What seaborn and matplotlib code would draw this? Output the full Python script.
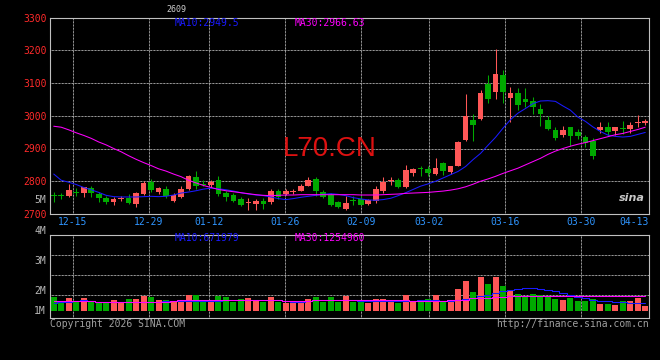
import numpy as np
import pandas as pd
import matplotlib
matplotlib.use("Agg")
import matplotlib.pyplot as plt
import seaborn as sns

# daily K-line of L70.CN, 2025-12-10 .. 2026-04-13 (80 sessions)
open_ = [2758, 2757, 2756, 2766, 2764, 2779, 2761, 2749, 2738, 2747,
         2749, 2732, 2760, 2797, 2768, 2777, 2739, 2752, 2775, 2813,
         2793, 2790, 2805, 2765, 2757, 2747, 2733, 2732, 2740, 2736,
         2771, 2760, 2767, 2770, 2785, 2808, 2768, 2757, 2736, 2714,
         2742, 2747, 2731, 2740, 2770, 2800, 2805, 2782, 2824, 2840,
         2836, 2823, 2856, 2829, 2848, 2925, 2988, 2991, 3098, 3074,
         3125, 3054, 3069, 3052, 3044, 3021, 2988, 2958, 2942, 2965,
         2949, 2934, 2922, 2957, 2965, 2952, 2963, 2961, 2977, 2978]
high = [2766, 2765, 2792, 2778, 2783, 2786, 2766, 2754, 2751, 2754,
        2761, 2768, 2800, 2806, 2782, 2785, 2765, 2785, 2820, 2830,
        2803, 2805, 2815, 2770, 2765, 2752, 2750, 2747, 2749, 2775,
        2777, 2775, 2777, 2793, 2812, 2813, 2772, 2764, 2740, 2754,
        2754, 2757, 2746, 2785, 2812, 2814, 2810, 2849, 2841, 2848,
        2847, 2871, 2858, 2848, 2924, 3067, 3006, 3079, 3125, 3203,
        3140, 3089, 3084, 3084, 3057, 3037, 2998, 2966, 2970, 2966,
        2960, 2942, 2932, 2981, 2980, 2965, 2985, 2981, 3003, 2991]
low = [2737, 2745, 2752, 2756, 2751, 2753, 2736, 2731, 2728, 2739,
       2731, 2721, 2758, 2767, 2762, 2750, 2736, 2748, 2772, 2775,
       2785, 2782, 2756, 2739, 2737, 2724, 2712, 2712, 2716, 2731,
       2746, 2757, 2760, 2770, 2784, 2755, 2750, 2724, 2717, 2712,
       2727, 2726, 2727, 2735, 2765, 2790, 2778, 2780, 2815, 2817,
       2815, 2819, 2818, 2822, 2846, 2922, 2922, 2988, 3039, 3052,
       3039, 2980, 3018, 3028, 3006, 2970, 2955, 2925, 2934, 2909,
       2930, 2905, 2869, 2947, 2937, 2942, 2944, 2947, 2965, 2971]
close = [2756, 2754, 2773, 2763, 2781, 2763, 2750, 2738, 2746, 2750,
         2734, 2764, 2795, 2773, 2780, 2755, 2757, 2777, 2815, 2785,
         2790, 2797, 2760, 2751, 2741, 2726, 2735, 2739, 2732, 2771,
         2752, 2771, 2769, 2785, 2805, 2770, 2753, 2727, 2722, 2735,
         2739, 2729, 2743, 2777, 2797, 2803, 2781, 2834, 2836, 2837,
         2826, 2841, 2831, 2846, 2920, 2998, 2973, 3069, 3052, 3128,
         3071, 3069, 3034, 3041, 3028, 3006, 2960, 2932, 2955, 2937,
         2937, 2917, 2876, 2967, 2949, 2965, 2961, 2973, 2978, 2985]
ma10 = [2822, 2803, 2797, 2790, 2781, 2774, 2766, 2757, 2753, 2752,
        2752, 2752, 2753, 2754, 2753, 2754, 2758, 2764, 2767, 2771,
        2776, 2779, 2777, 2774, 2770, 2765, 2761, 2758, 2756, 2752,
        2747, 2744, 2747, 2751, 2754, 2757, 2760, 2762, 2760, 2756,
        2750, 2746, 2743, 2742, 2744, 2748, 2756, 2765, 2775, 2785,
        2792, 2800, 2810, 2820, 2830, 2845, 2866, 2885, 2910, 2934,
        2962, 2988, 3008, 3022, 3037, 3045, 3046, 3044, 3030, 3017,
        2996, 2983, 2966, 2952, 2941, 2937, 2935, 2937, 2943, 2949]
ma30 = [2968, 2965, 2957, 2948, 2940, 2931, 2920, 2911, 2900, 2890,
        2878, 2867, 2857, 2848, 2838, 2831, 2822, 2814, 2803, 2795,
        2787, 2781, 2775, 2771, 2768, 2765, 2762, 2759, 2757, 2756,
        2757, 2758, 2758, 2759, 2759, 2759, 2759, 2759, 2759, 2759,
        2759, 2758, 2758, 2758, 2759, 2760, 2761, 2763, 2764, 2765,
        2766, 2768, 2770, 2773, 2777, 2783, 2791, 2800, 2807, 2815,
        2824, 2832, 2840, 2850, 2860, 2870, 2882, 2892, 2900, 2907,
        2913, 2918, 2924, 2930, 2936, 2942, 2946, 2952, 2958, 2965]

# volume, millions
volume = [1.21, 0.82, 1.15, 0.82, 1.15, 0.82, 0.82, 0.82, 0.97, 0.73,
          1.06, 1.06, 1.36, 1.24, 0.97, 0.97, 0.76, 0.88, 1.42, 1.42,
          0.88, 0.88, 1.33, 1.24, 0.82, 1.06, 1.15, 0.97, 0.82, 1.24,
          0.82, 0.73, 0.73, 0.82, 1.06, 1.24, 0.82, 1.24, 0.82, 1.36,
          0.82, 0.82, 0.67, 1.06, 1.06, 0.97, 0.73, 1.42, 0.82, 0.82,
          1.06, 1.42, 0.82, 0.82, 1.97, 2.69, 1.73, 3.09, 2.42, 3.09,
          2.24, 1.88, 1.51, 1.36, 1.51, 1.42, 1.27, 1.06, 0.97, 1.12,
          0.88, 0.88, 1.06, 0.61, 0.61, 0.51, 0.88, 0.88, 1.15, 0.42]
vol_ma10 = [0.73, 0.76, 0.82, 0.85, 0.95, 0.85, 0.82, 0.82, 0.82, 0.82,
            0.82, 0.82, 0.82, 0.82, 0.82, 0.84, 0.86, 0.90, 0.91, 0.91,
            0.91, 0.91, 0.91, 0.93, 0.97, 0.97, 0.97, 0.99, 1.00, 1.00,
            0.95, 0.85, 0.82, 0.82, 0.85, 0.95, 0.97, 0.97, 0.97, 0.97,
            0.95, 0.88, 0.88, 0.88, 0.88, 0.88, 0.88, 0.88, 0.92, 0.97,
            0.97, 0.97, 0.88, 0.88, 1.00, 1.03, 1.15, 1.30, 1.45, 1.57,
            1.75, 1.88, 1.98, 2.03, 2.03, 2.00, 1.90, 1.75, 1.60, 1.40,
            1.25, 1.12, 1.00, 0.91, 0.88, 0.82, 0.80, 0.72, 0.70, 0.67]
vol_ma30 = [0.88, 0.88, 0.88, 0.88, 0.88, 0.88, 0.82, 0.82, 0.82, 0.82,
            0.82, 0.82, 0.82, 0.82, 0.82, 0.82, 0.90, 0.97, 0.97, 0.97,
            0.97, 0.97, 0.97, 0.97, 0.97, 0.97, 0.97, 0.97, 0.97, 0.97,
            0.97, 0.88, 0.88, 0.88, 0.88, 0.97, 0.97, 0.94, 0.94, 0.94,
            0.94, 0.94, 0.94, 0.94, 0.94, 0.94, 0.94, 0.94, 0.91, 0.91,
            0.91, 0.91, 0.91, 0.97, 0.97, 0.97, 1.12, 1.12, 1.12, 1.27,
            1.27, 1.33, 1.33, 1.33, 1.33, 1.33, 1.33, 1.33, 1.33, 1.33,
            1.33, 1.33, 1.33, 1.33, 1.33, 1.33, 1.33, 1.33, 1.33, 1.33]

date_labels = ["12-15", "12-29", "01-12", "01-26", "02-09", "03-02", "03-16", "03-30", "04-13"]
date_idx = [3, 13, 21, 31, 41, 50, 60, 70, 79]
price_ticks = [2700, 2800, 2900, 3000, 3100, 3200, 3300]
vol_labels = ["4M", "3M", "2M", "1M"]

RED = "#ff5757"
GREEN = "#00aa00"
BLUE = "#1a1aff"
MAGENTA = "#ff00ff"
FRAME = "#c0c0c0"
GRID = "#d0d0d0"

sns.set_theme(style="dark", rc={"axes.facecolor": "black", "figure.facecolor": "black",
                                "axes.edgecolor": FRAME, "axes.linewidth": 0.8})
plt.rcParams["font.family"] = ["DejaVu Sans Mono", "DejaVu Sans"]

df = pd.DataFrame({"open": open_, "high": high, "low": low, "close": close,
                   "ma10": ma10, "ma30": ma30, "vol": volume,
                   "vma10": vol_ma10, "vma30": vol_ma30})
df["x"] = np.arange(len(df))
colors = np.where(df["close"] >= df["open"], RED, GREEN)
n = len(df)
# sina spaces its date grid over n-1 steps while candles use n slots
grid_x = [-0.5 + k * n / (n - 1) for k in date_idx]

W, H = 660, 360
def fpos(x, y):
    return x / W, 1 - y / H

fig = plt.figure(figsize=(6.6, 3.6), dpi=100)
ax = fig.add_axes([50 / W, 1 - 214 / H, 599 / W, 196.5 / H])
axv = fig.add_axes([50 / W, 1 - 318 / H, 599 / W, 83 / H])

dots = (0, (0.72, 0.72))

# --- price panel
ax.vlines(df["x"], df["low"], df["high"], colors=colors, lw=0.75)
body = (df["close"] - df["open"]).abs().clip(lower=3)
ax.bar(df["x"], body, bottom=np.minimum(df["open"], df["close"]),
       width=0.76, color=colors, lw=0)
sns.lineplot(x=df["x"], y=df["ma10"], ax=ax, color=BLUE, lw=0.75, legend=False)
sns.lineplot(x=df["x"], y=df["ma30"], ax=ax, color=MAGENTA, lw=0.75, legend=False)

ax.set_xlim(-0.5, n - 0.5)
ax.set_ylim(price_ticks[0], price_ticks[-1])
ax.set_yticks(price_ticks)
ax.set_yticklabels([str(p) for p in price_ticks], color="#ff2a2a", fontsize=7)
ax.set_xticks(grid_x)
ax.set_xticklabels(date_labels, color="#2f95ff", fontsize=7)
ax.get_xticklabels()[-1].set_ha("right")
ax.tick_params(length=0, pad=2.5)
ax.set_xlabel("")
ax.set_ylabel("")
ax.grid(True, color=GRID, ls=dots, lw=0.72)

# --- volume panel
axv.bar(df["x"], df["vol"], width=0.8, color=colors, lw=0)
sns.lineplot(x=df["x"], y=df["vma10"], ax=axv, color=BLUE, lw=0.75,
             drawstyle="steps-mid", legend=False)
sns.lineplot(x=df["x"], y=df["vma30"], ax=axv, color=MAGENTA, lw=0.75,
             drawstyle="steps-mid", legend=False)
axv.set_xlim(-0.5, n - 0.5)
axv.set_ylim(-0.663, 6.874)
axv.set_xticks(grid_x[:-1])
axv.set_yticks([1.426, 3.242, 5.058])
axv.tick_params(length=0, labelbottom=False, labelleft=False)
axv.set_xlabel("")
axv.set_ylabel("")
axv.grid(True, color=GRID, ls=dots, lw=0.72)

for a in (ax, axv):
    for s in a.spines.values():
        s.set_color(FRAME)
        s.set_linewidth(0.8)

# --- texts
mono = dict(fontsize=7, family="DejaVu Sans Mono")
for lab, y in zip(vol_labels, [231, 261, 291, 311]):
    fig.text(*fpos(46, y), lab, ha="right", va="center", color="#b8b8b8", **mono)
fig.text(*fpos(46, 200), "5M", ha="right", va="center", color="#b8b8b8", **mono)
fig.text(*fpos(176, 10), "2609", ha="center", va="center", color="#cccccc", fontsize=6)
fig.text(*fpos(175, 23), f"MA10:{ma10[-1] + 0.5:.1f}", ha="left", va="center", color=BLUE, **mono)
fig.text(*fpos(295, 23), "MA30:2966.63", ha="left", va="center", color=MAGENTA, **mono)
fig.text(*fpos(175, 238), "MA10:671979", ha="left", va="center", color=BLUE, **mono)
fig.text(*fpos(295, 238), "MA30:1254960", ha="left", va="center", color=MAGENTA, **mono)
fig.text(*fpos(283, 149), "L70.CN", ha="left", va="center", color="#dd1111",
         fontsize=20, family="Liberation Sans")
fig.text(*fpos(50, 324), "Copyright 2026 SINA.COM", ha="left", va="center", color="#a0a0a0", **mono)
fig.text(*fpos(649, 324), "http://finance.sina.com.cn", ha="right", va="center", color="#a0a0a0", **mono)
fig.text(*fpos(632, 198), "sina", ha="center", va="center", color="#c8c8c8",
         fontsize=8, style="italic", weight="bold", family="DejaVu Sans")

fig.savefig("out.png", dpi=100, facecolor="black")
